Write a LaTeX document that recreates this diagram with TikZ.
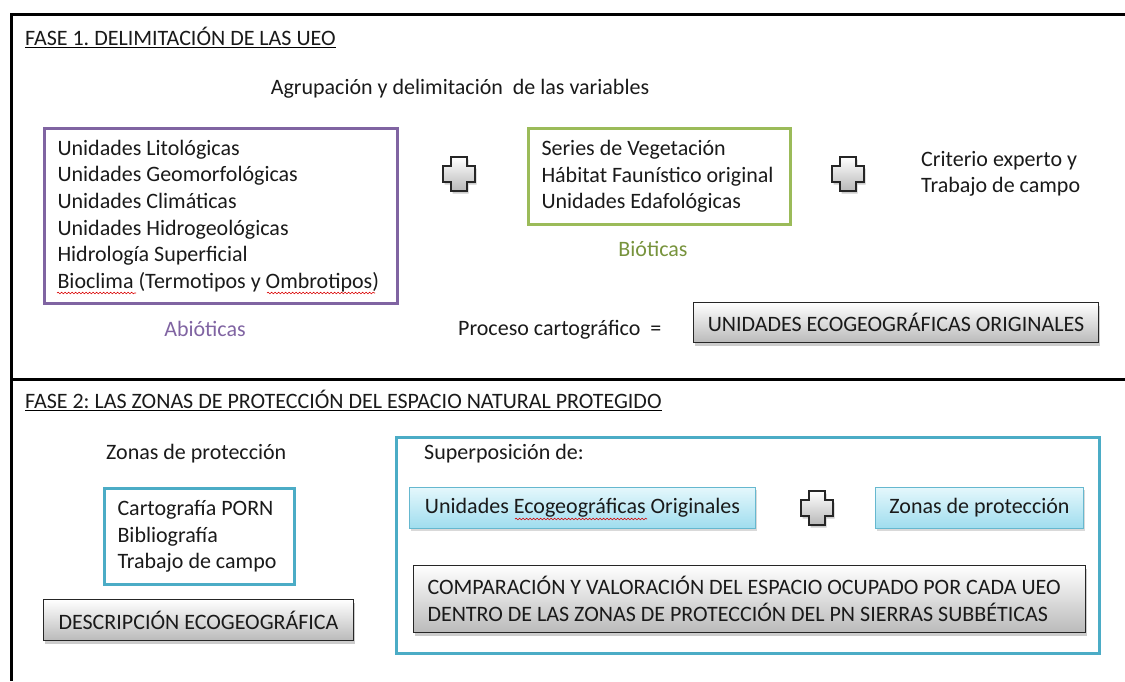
\documentclass[tikz,border=0pt]{standalone}
\usepackage{fontspec}
\setmainfont{Carlito}
\frenchspacing
\usetikzlibrary{shadows,decorations.pathmorphing}
\definecolor{fpurple}{HTML}{8064A2}
\definecolor{fgreen}{HTML}{9BBB59}
\definecolor{fgreentxt}{HTML}{77933C}
\definecolor{fblue}{HTML}{4BACC6}
\definecolor{txtc}{HTML}{1A1A1A}
\definecolor{cyanlt}{HTML}{E4F7FC}
\definecolor{cyandk}{HTML}{9FDDEE}
\begin{document}
\begin{tikzpicture}[x=1pt,y=-1pt,
  font=\fontsize{22}{26.6}\selectfont\frenchspacing, text=txtc,
  every node/.style={inner sep=0pt},
  group/.style={draw, line width=3pt, anchor=north west, align=flush left, inner xsep=13pt},
  graybox/.style={draw=black!85, line width=1pt, top color=white, bottom color=black!27,
    drop shadow={opacity=0.4, shadow xshift=1.5pt, shadow yshift=-3pt}, anchor=north west},
  cyanbox/.style={draw=fblue!85, line width=1pt, top color=cyanlt, bottom color=cyandk,
    drop shadow={opacity=0.3, shadow xshift=1.5pt, shadow yshift=-2.5pt}, anchor=north west},
  squig/.style={red!85!black, line width=0.6pt, decorate, decoration={snake, amplitude=0.8pt, segment length=3.5pt}},
  plussign/.pic={\path[draw=black!85, line width=1.8pt, top color=white, bottom color=black!28,
    drop shadow={opacity=0.4, shadow xshift=1.5pt, shadow yshift=-2.5pt}]
    (-8,-17) -- (8,-17) -- (8,-8) -- (16,-8) -- (16,8) -- (8,8) -- (8,17) -- (-8,17)
    -- (-8,8) -- (-16,8) -- (-16,-8) -- (-8,-8) -- cycle;}
]
\useasboundingbox (0,0) rectangle (1125,681);
% frame
\draw[line width=3pt] (1125,14) -- (11,14) -- (11,681);
\draw[line width=3pt] (11,379) -- (1125,379);

% ---- FASE 1
\node[anchor=base west] (f1) at (25,45) {FASE 1. DELIMITACIÓN DE LAS UEO};
\draw[line width=0.7pt] ([yshift=-2pt]f1.base west) -- ([yshift=-2pt]f1.base east);
\node (agr) at (460,89) {Agrupación y delimitación\ \ de las variables};

\node[group, draw=fpurple, minimum width=353pt, minimum height=175pt, text width=327pt] (abio) at (43,127)
 {Unidades Litológicas\\Unidades Geomorfológicas\\Unidades Climáticas\\Unidades Hidrogeológicas\\Hidrología Superficial\\Bioclima (Termotipos y Ombrotipos)};
\node[text=fpurple] (abiol) at (205,329) {Abióticas};

\pic at (459,174) {plussign};

\node[group, draw=fgreen, minimum width=262pt, minimum height=96pt, text width=236pt] (bio) at (527,127)
 {Series de Vegetación\\Hábitat Faunístico original\\Unidades Edafológicas};
\node[text=fgreentxt] (biol) at (653,249) {Bióticas};

\pic at (848,174) {plussign};

\node[anchor=west, align=flush left] (crit) at (921,174) {Criterio experto y\\Trabajo de campo};

\node[anchor=west] (proc) at (458,330) {Proceso cartográfico\ \ =};
\node[graybox, minimum width=405pt, minimum height=40pt] (ueo) at (693,302) {UNIDADES ECOGEOGRÁFICAS ORIGINALES};

% ---- FASE 2
\node[anchor=base west] (f2) at (25,408) {FASE 2: LAS ZONAS DE PROTECCIÓN DEL ESPACIO NATURAL PROTEGIDO};
\draw[line width=0.7pt] ([yshift=-2pt]f2.base west) -- ([yshift=-2pt]f2.base east);

\node[anchor=west] (zp) at (106,454) {Zonas de protección};
\node[group, draw=fblue, minimum width=190pt, minimum height=96pt, text width=164pt] (fuentes) at (103,487)
 {Cartografía PORN\\Bibliografía\\Trabajo de campo};
\node[graybox, minimum width=310pt, minimum height=41pt] (desc) at (43,599) {DESCRIPCIÓN ECOGEOGRÁFICA};

\node[draw=fblue, line width=3pt, anchor=north west, minimum width=703pt, minimum height=216pt] (sup) at (395,436) {};
\node[anchor=west] (supl) at (424,454) {Superposición de:};
\node[cyanbox, minimum width=346pt, minimum height=41pt] (ueo2) at (409,487) {Unidades Ecogeográficas Originales};
\pic at (817,508) {plussign};
\node[cyanbox, minimum width=208pt, minimum height=41pt] (zp2) at (875,487) {Zonas de protección};
\node[graybox, minimum width=672pt, minimum height=67pt, align=flush left, inner xsep=14pt, text width=644pt] (comp) at (413,565)
 {COMPARACIÓN Y VALORACIÓN DEL ESPACIO OCUPADO POR CADA UEO\\DENTRO DE LAS ZONAS DE PROTECCIÓN DEL PN SIERRAS SUBBÉTICAS};

% spelling squiggles
\draw[squig] (57,293) -- (136,293);
\draw[squig] (267,293) -- (375,293);
\draw[squig] (515,519) -- (647,519);
\end{tikzpicture}
\end{document}
